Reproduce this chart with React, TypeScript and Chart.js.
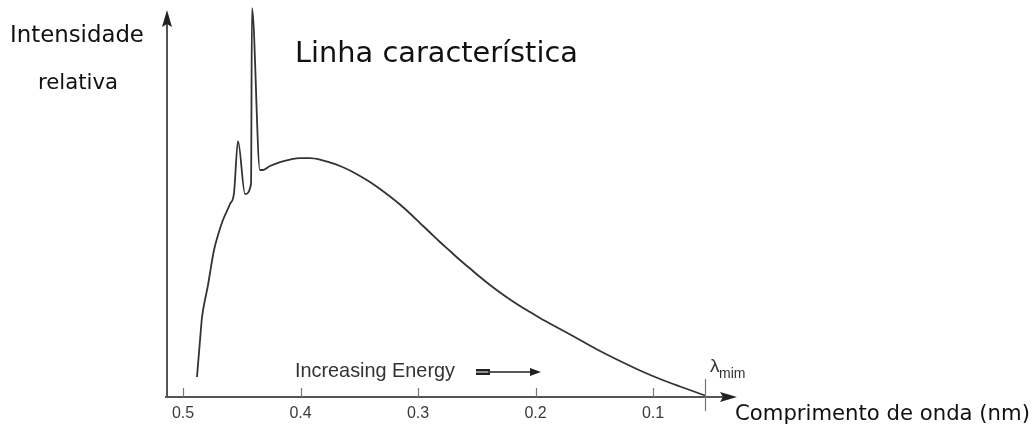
import React, { useEffect, useRef } from "react";
import { Chart, registerables } from "chart.js";

Chart.register(...registerables);

// ---- data ----
const wavelength = [
  0.4881, 0.4855, 0.4838, 0.4813, 0.4787, 0.4762, 0.4736, 0.4702, 0.466,
  0.46, 0.4566, 0.4532, 0.4472, 0.4421, 0.4413, 0.4345, 0.4319, 0.426,
  0.4174, 0.4089, 0.4004, 0.3919, 0.3834, 0.3749, 0.3664, 0.3579, 0.3494,
  0.3409, 0.3323, 0.3238, 0.3153, 0.3068, 0.2983, 0.2898, 0.2813, 0.2728,
  0.2643, 0.2557, 0.2472, 0.2387, 0.2302, 0.2217, 0.2132, 0.2047, 0.1962,
  0.1791, 0.1621, 0.1451, 0.1281, 0.1111, 0.094, 0.077, 0.0557,
];
const intensity = [
  5.17, 14.73, 20.67, 25.06, 28.94, 33.59, 37.98, 41.86, 45.74,
  49.87, 52.71, 66.15, 52.45, 55.04, 100.52, 58.66, 58.66, 59.69,
  60.72, 61.37, 61.76, 61.76, 61.37, 60.59, 59.69, 58.53, 57.11,
  55.56, 53.75, 51.81, 49.74, 47.42, 44.96, 42.51, 40.05, 37.73,
  35.4, 33.2, 31.01, 28.94, 27.0, 25.19, 23.51, 21.96, 20.41,
  17.57, 14.73, 11.89, 9.3, 6.85, 4.65, 2.71, 0.39,
];
const xTickValues = [0.5, 0.4, 0.3, 0.2, 0.1];
const lambdaMin = 0.0557;
const xLeft = 0.51362;
const xRight = 0.02851;
const yTop = 102.6;
const yArrowTip = 100;

const yLabelLines = ["Intensidade", "relativa"];
const peakLabel = "Linha característica";
const energyLabel = "Increasing Energy";
const xTitle = "Comprimento de onda (nm)";
const lambdaSymbol = "λ";
const lambdaSub = "mim";

function fitFont(ctx: CanvasRenderingContext2D, text: string, family: string, width: number) {
  ctx.font = `100px ${family}`;
  const w = ctx.measureText(text).width;
  const size = (100 * width) / w;
  ctx.font = `${size}px ${family}`;
  return size;
}

const decorations = {
  id: "decorations",
  afterDraw(chart: any) {
    const { ctx, scales } = chart;
    const x = scales.x;
    const y = scales.y;
    const left = x.getPixelForValue(xLeft);
    const right = x.getPixelForValue(xRight);
    const base = y.getPixelForValue(0);
    const tip = y.getPixelForValue(yArrowTip);
    ctx.save();
    ctx.strokeStyle = "#555";
    ctx.fillStyle = "#222";
    ctx.lineWidth = 2;
    // y axis
    ctx.beginPath();
    ctx.moveTo(left, base + 1);
    ctx.lineTo(left, tip + 8);
    ctx.stroke();
    ctx.beginPath();
    ctx.moveTo(left, tip);
    ctx.lineTo(left - 5, tip + 17);
    ctx.lineTo(left, tip + 14);
    ctx.lineTo(left + 5, tip + 17);
    ctx.closePath();
    ctx.fill();
    // x axis
    ctx.beginPath();
    ctx.moveTo(left - 2, base);
    ctx.lineTo(right - 8, base);
    ctx.stroke();
    ctx.beginPath();
    ctx.moveTo(right, base);
    ctx.lineTo(right - 17, base - 5);
    ctx.lineTo(right - 14, base);
    ctx.lineTo(right - 17, base + 5);
    ctx.closePath();
    ctx.fill();
    // tick marks (inside)
    ctx.lineWidth = 1.2;
    ctx.strokeStyle = "#777";
    xTickValues.forEach((v) => {
      const px = Math.round(x.getPixelForValue(v)) + 0.5;
      ctx.beginPath();
      ctx.moveTo(px, base);
      ctx.lineTo(px, base - 9);
      ctx.stroke();
    });
    const lx = Math.round(x.getPixelForValue(lambdaMin)) + 0.5;
    ctx.beginPath();
    ctx.moveTo(lx, base - 18);
    ctx.lineTo(lx, base + 14);
    ctx.stroke();

    // texts
    ctx.fillStyle = "#111";
    ctx.textBaseline = "alphabetic";
    ctx.textAlign = "left";
    fitFont(ctx, yLabelLines[0], "'DejaVu Sans'", 134);
    ctx.fillText(yLabelLines[0], 10, 42);
    fitFont(ctx, yLabelLines[1], "'DejaVu Sans'", 80);
    ctx.fillText(yLabelLines[1], 38, 89);
    fitFont(ctx, peakLabel, "'DejaVu Sans'", 283);
    ctx.fillText(peakLabel, 295, 62);
    fitFont(ctx, xTitle, "'DejaVu Sans'", 295);
    ctx.fillText(xTitle, 735, 420);

    ctx.fillStyle = "#333";
    fitFont(ctx, energyLabel, "'Liberation Sans'", 160);
    ctx.fillText(energyLabel, 295, 377);
    // energy arrow
    ctx.strokeStyle = "#222";
    ctx.lineWidth = 2.6;
    ctx.beginPath();
    ctx.moveTo(476, 370.3);
    ctx.lineTo(490, 370.3);
    ctx.moveTo(476, 373.7);
    ctx.lineTo(490, 373.7);
    ctx.stroke();
    ctx.lineWidth = 1.3;
    ctx.beginPath();
    ctx.moveTo(488, 372);
    ctx.lineTo(534, 372);
    ctx.stroke();
    ctx.fillStyle = "#222";
    ctx.beginPath();
    ctx.moveTo(541, 372);
    ctx.lineTo(530, 368);
    ctx.lineTo(530, 376);
    ctx.closePath();
    ctx.fill();

    // lambda min
    ctx.fillStyle = "#333";
    ctx.font = "19px 'Liberation Sans'";
    ctx.fillText(lambdaSymbol, 710, 372);
    ctx.font = "14px 'Liberation Sans'";
    ctx.fillText(lambdaSub, 719, 378);
    ctx.restore();
  },
};

export default function App() {
  const ref = useRef<HTMLCanvasElement | null>(null);
  useEffect(() => {
    document.body.style.margin = "0";
    const canvas = ref.current;
    if (!canvas) return;
    const points = wavelength.map((w, i) => ({ x: w, y: intensity[i] }));
    const chart = new Chart(canvas, {
      type: "line",
      data: {
        datasets: [
          {
            data: points,
            borderColor: "#333",
            borderWidth: 1.8,
            borderJoinStyle: "round",
            pointRadius: 0,
            fill: false,
            cubicInterpolationMode: "monotone",
            clip: false as any,
          },
        ],
      },
      options: {
        animation: false,
        responsive: true,
        maintainAspectRatio: false,
        layout: { padding: { left: 167, right: 1032 - 737, top: 0, bottom: 0 } },
        plugins: { legend: { display: false }, tooltip: { enabled: false } },
        scales: {
          x: {
            type: "linear",
            reverse: true,
            min: xRight,
            max: xLeft,
            grid: { display: false, drawTicks: false },
            border: { display: false },
            afterBuildTicks: (scale: any) => {
              scale.ticks = xTickValues.map((v) => ({ value: v }));
            },
            afterFit: (scale: any) => {
              scale.height = 35;
            },
            ticks: {
              autoSkip: false,
              maxRotation: 0,
              padding: 7,
              color: "#3a3a3a",
              font: { family: "'Liberation Sans'", size: 16 },
              callback: (v: any) => Number(v).toFixed(1),
            },
          },
          y: { display: false, min: 0, max: yTop },
        },
      },
      plugins: [decorations],
    });
    return () => chart.destroy();
  }, []);
  return (
    <div style={{ position: "relative", width: 1032, height: 432 }}>
      <canvas ref={ref} />
    </div>
  );
}
